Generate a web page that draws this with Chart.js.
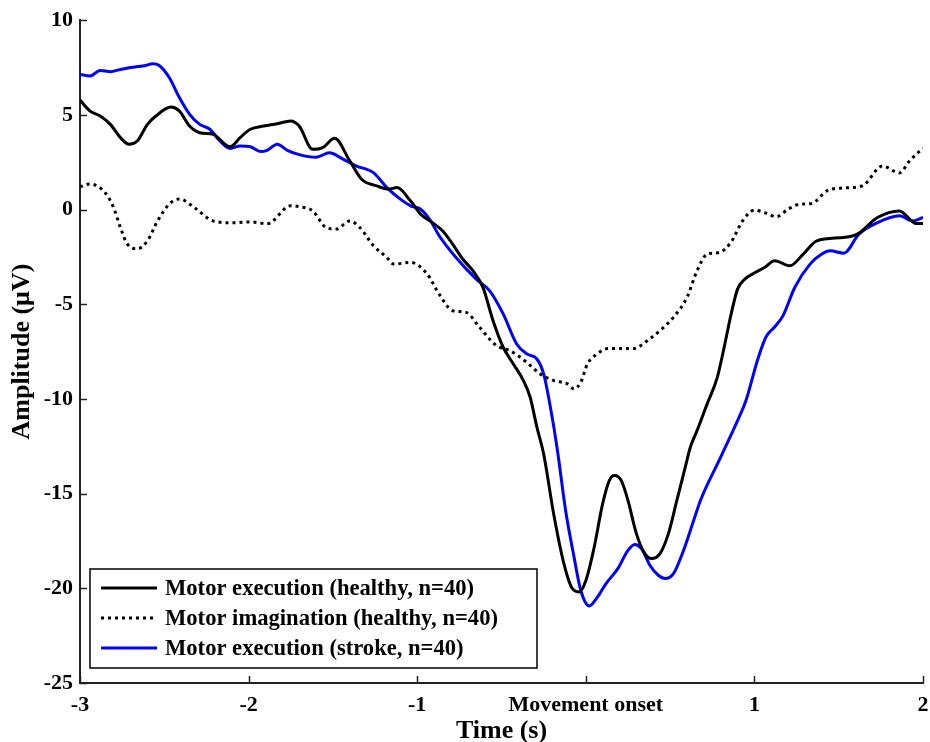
<!DOCTYPE html>
<html>
<head>
<meta charset="utf-8">
<script src="https://cdn.jsdelivr.net/npm/chart.js@4.4.1/dist/chart.umd.min.js"></script>
<style>
  html, body { margin: 0; padding: 0; background: #fff; }
  #wrap { width: 930px; height: 742px; }
</style>
</head>
<body>
<div id="wrap"><canvas id="erpChart"></canvas></div>
<script>
// time axis (s) and amplitude (uV), one pair of arrays per curve
const execHealthyTime = [-3.00, -2.94, -2.88, -2.82, -2.76, -2.71, -2.66, -2.60, -2.55, -2.46, -2.41, -2.35, -2.29, -2.21, -2.11, -2.05, -1.99, -1.91, -1.83, -1.75, -1.70, -1.62, -1.56, -1.49, -1.40, -1.33, -1.24, -1.17, -1.12, -1.04, -0.98, -0.91, -0.85, -0.79, -0.73, -0.67, -0.61, -0.55, -0.49, -0.43, -0.37, -0.33, -0.29, -0.25, -0.19, -0.13, -0.08, -0.04, 0.00, 0.05, 0.10, 0.14, 0.17, 0.21, 0.25, 0.30, 0.35, 0.39, 0.44, 0.49, 0.54, 0.59, 0.62, 0.66, 0.72, 0.78, 0.82, 0.86, 0.90, 0.94, 1.01, 1.06, 1.12, 1.21, 1.29, 1.37, 1.53, 1.61, 1.73, 1.86, 1.96, 2.00];
const execHealthyAmp = [5.78, 5.20, 4.94, 4.50, 3.80, 3.45, 3.62, 4.50, 4.94, 5.41, 5.20, 4.41, 4.06, 3.97, 3.32, 3.80, 4.24, 4.41, 4.53, 4.68, 4.41, 3.18, 3.27, 3.76, 2.57, 1.60, 1.25, 1.08, 1.16, 0.46, -0.24, -0.69, -1.12, -1.82, -2.61, -3.23, -4.11, -5.87, -7.27, -8.15, -9.03, -9.91, -11.49, -12.90, -16.10, -18.69, -20.01, -20.19, -19.60, -17.82, -15.53, -14.30, -14.04, -14.30, -15.36, -17.11, -18.17, -18.43, -18.17, -17.11, -15.36, -13.60, -12.55, -11.67, -10.26, -8.86, -7.30, -5.60, -4.20, -3.70, -3.30, -3.06, -2.70, -2.97, -2.35, -1.65, -1.47, -1.30, -0.42, -0.07, -0.74, -0.74];

const imagHealthyTime = [-3.00, -2.94, -2.85, -2.80, -2.76, -2.72, -2.66, -2.60, -2.54, -2.47, -2.41, -2.32, -2.21, -2.09, -1.99, -1.89, -1.75, -1.70, -1.62, -1.54, -1.48, -1.40, -1.34, -1.26, -1.18, -1.14, -1.04, -0.94, -0.87, -0.79, -0.71, -0.63, -0.53, -0.45, -0.35, -0.27, -0.19, -0.11, -0.07, -0.03, 0.01, 0.07, 0.13, 0.28, 0.38, 0.44, 0.52, 0.60, 0.66, 0.72, 0.79, 0.86, 0.93, 1.00, 1.07, 1.13, 1.20, 1.27, 1.34, 1.43, 1.53, 1.64, 1.76, 1.86, 1.92, 2.00];
const imagHealthyAmp = [1.20, 1.35, 0.88, 0.09, -0.96, -1.81, -2.07, -1.65, -0.60, 0.30, 0.56, 0.09, -0.60, -0.70, -0.65, -0.75, 0.20, 0.15, -0.07, -0.95, -1.03, -0.60, -0.95, -1.90, -2.53, -2.88, -2.79, -3.41, -4.46, -5.34, -5.43, -6.22, -7.19, -7.45, -8.07, -8.68, -9.03, -9.20, -9.47, -9.12, -8.15, -7.61, -7.34, -7.34, -6.82, -6.39, -5.69, -4.64, -3.23, -2.35, -2.27, -1.74, -0.60, -0.03, -0.19, -0.38, 0.02, 0.28, 0.32, 0.99, 1.14, 1.25, 2.30, 1.93, 2.57, 3.25];

const execStrokeTime = [-3.00, -2.94, -2.88, -2.82, -2.76, -2.68, -2.61, -2.57, -2.53, -2.47, -2.41, -2.35, -2.29, -2.23, -2.17, -2.11, -2.05, -1.99, -1.93, -1.89, -1.83, -1.77, -1.70, -1.60, -1.52, -1.44, -1.36, -1.26, -1.18, -1.10, -1.04, -0.98, -0.92, -0.87, -0.77, -0.65, -0.57, -0.49, -0.41, -0.35, -0.29, -0.25, -0.21, -0.17, -0.12, -0.07, -0.03, 0.02, 0.07, 0.12, 0.19, 0.25, 0.29, 0.33, 0.38, 0.43, 0.47, 0.52, 0.58, 0.64, 0.68, 0.80, 0.90, 0.95, 1.02, 1.07, 1.12, 1.17, 1.24, 1.33, 1.40, 1.45, 1.53, 1.62, 1.73, 1.86, 1.94, 2.00];
const execStrokeAmp = [7.14, 7.05, 7.35, 7.28, 7.40, 7.52, 7.61, 7.70, 7.61, 6.96, 5.90, 5.03, 4.50, 4.24, 3.62, 3.23, 3.36, 3.32, 3.06, 3.13, 3.45, 3.13, 2.90, 2.76, 3.00, 2.66, 2.30, 1.95, 1.16, 0.55, 0.20, 0.02, -0.60, -1.38, -2.53, -3.67, -4.29, -5.51, -7.10, -7.62, -7.89, -8.68, -10.44, -12.60, -15.88, -18.34, -20.10, -20.93, -20.45, -19.75, -18.96, -18.00, -17.68, -17.90, -18.78, -19.31, -19.48, -19.22, -17.99, -16.41, -15.36, -13.07, -11.14, -10.08, -7.90, -6.70, -6.20, -5.60, -4.10, -2.88, -2.35, -2.18, -2.30, -1.30, -0.69, -0.33, -0.60, -0.42];

const xTickValues = [-3, -2, -1, 0, 1, 2];
const xTickLabels = ['-3', '-2', '-1', 'Movement onset', '1', '2'];
const yTickValues = [-25, -20, -15, -10, -5, 0, 5, 10];

const seriesLabels = [
  'Motor execution (healthy, n=40)',
  'Motor imagination (healthy, n=40)',
  'Motor execution (stroke, n=40)'
];

function toPoints(times, amps) {
  return times.map((t, i) => ({ x: t, y: amps[i] }));
}

Chart.defaults.font.family = '"Liberation Serif", "Times New Roman", serif';
Chart.defaults.color = '#000';

// MATLAB style ticks that point into the plot
const inwardTicks = {
  id: 'inwardTicks',
  afterDraw(chart, args, opts) {
    const { ctx, chartArea, scales } = chart;
    ctx.save();
    ctx.strokeStyle = opts.color;
    ctx.lineWidth = opts.width;
    scales.x.ticks.forEach((t) => {
      const px = Math.round(scales.x.getPixelForValue(t.value)) + 0.5;
      ctx.beginPath();
      ctx.moveTo(px, chartArea.bottom);
      ctx.lineTo(px, chartArea.bottom - opts.length);
      ctx.stroke();
    });
    scales.y.ticks.forEach((t) => {
      const py = Math.round(scales.y.getPixelForValue(t.value)) + 0.5;
      ctx.beginPath();
      ctx.moveTo(chartArea.left, py);
      ctx.lineTo(chartArea.left + opts.length, py);
      ctx.stroke();
    });
    ctx.restore();
  }
};

// boxed legend sitting in the lower left corner of the plot
const boxLegend = {
  id: 'boxLegend',
  afterDraw(chart, args, opts) {
    const { ctx, chartArea } = chart;
    const left = chartArea.left + opts.offsetX;
    const top = chartArea.bottom - opts.offsetY - opts.height;
    ctx.save();
    ctx.fillStyle = '#fff';
    ctx.fillRect(left, top, opts.width, opts.height);
    ctx.strokeStyle = '#000';
    ctx.lineWidth = 1.5;
    ctx.strokeRect(left, top, opts.width, opts.height);
    chart.data.datasets.forEach((ds, i) => {
      const y = top + opts.firstRow + i * opts.rowGap;
      ctx.beginPath();
      ctx.setLineDash(ds.borderDash || []);
      ctx.strokeStyle = ds.borderColor;
      ctx.lineWidth = ds.borderWidth;
      ctx.moveTo(left + opts.lineStart, y);
      ctx.lineTo(left + opts.lineEnd, y);
      ctx.stroke();
      ctx.setLineDash([]);
      ctx.fillStyle = '#000';
      ctx.font = opts.font;
      ctx.textBaseline = 'middle';
      ctx.fillText(ds.label, left + opts.textStart, y + 1);
    });
    ctx.restore();
  }
};

const ctx = document.getElementById('erpChart').getContext('2d');
const chart = new Chart(ctx, {
  type: 'line',
  data: {
    datasets: [
      {
        label: seriesLabels[0],
        data: toPoints(execHealthyTime, execHealthyAmp),
        borderColor: '#000000',
        borderWidth: 3,
      },
      {
        label: seriesLabels[1],
        data: toPoints(imagHealthyTime, imagHealthyAmp),
        borderColor: '#000000',
        borderWidth: 3,
        borderDash: [3, 4],
      },
      {
        label: seriesLabels[2],
        data: toPoints(execStrokeTime, execStrokeAmp),
        borderColor: '#0000ff',
        borderWidth: 3,
      },
    ],
  },
  options: {
    responsive: true,
    maintainAspectRatio: false,
    animation: false,
    layout: { padding: { top: 19, right: 7, left: 0, bottom: 0 } },
    elements: {
      point: { radius: 0, hoverRadius: 0 },
      line: { cubicInterpolationMode: 'monotone', fill: false },
    },
    plugins: {
      legend: { display: false },
      tooltip: { enabled: false },
      inwardTicks: { color: '#222', width: 1.5, length: 7 },
      boxLegend: {
        offsetX: 10, offsetY: 15, width: 447, height: 99,
        firstRow: 19, rowGap: 30, lineStart: 11, lineEnd: 67, textStart: 75,
        font: 'bold 22.6px "Liberation Serif", "Times New Roman", serif',
      },
    },
    scales: {
      x: {
        type: 'linear',
        min: -3,
        max: 2,
        afterFit: (s) => { s.height = 59; s.paddingLeft = 0; s.paddingRight = 0; },
        afterBuildTicks: (s) => { s.ticks = xTickValues.map((v) => ({ value: v })); },
        grid: { display: false, drawTicks: false },
        border: { display: true, color: '#222', width: 2 },
        ticks: {
          padding: 9,
          maxRotation: 0,
          autoSkip: false,
          font: { size: 22, weight: 'bold' },
          callback: (v) => xTickLabels[xTickValues.indexOf(v)],
        },
        title: {
          display: true,
          text: 'Time (s)',
          font: { size: 26, weight: 'bold', lineHeight: 1 },
          padding: { top: 0, bottom: -2 },
        },
      },
      y: {
        type: 'linear',
        min: -25,
        max: 10,
        afterFit: (s) => { s.width = 80; },
        afterBuildTicks: (s) => { s.ticks = yTickValues.map((v) => ({ value: v })); },
        grid: { display: false, drawTicks: false },
        border: { display: true, color: '#222', width: 2 },
        ticks: {
          padding: 7,
          autoSkip: false,
          font: { size: 22, weight: 'bold' },
        },
        title: {
          display: true,
          text: 'Amplitude (μV)',
          font: { size: 26, weight: 'bold', lineHeight: 1 },
          padding: { top: 9, bottom: 0 },
        },
      },
    },
  },
  plugins: [inwardTicks, boxLegend],
});
</script>
</body>
</html>
